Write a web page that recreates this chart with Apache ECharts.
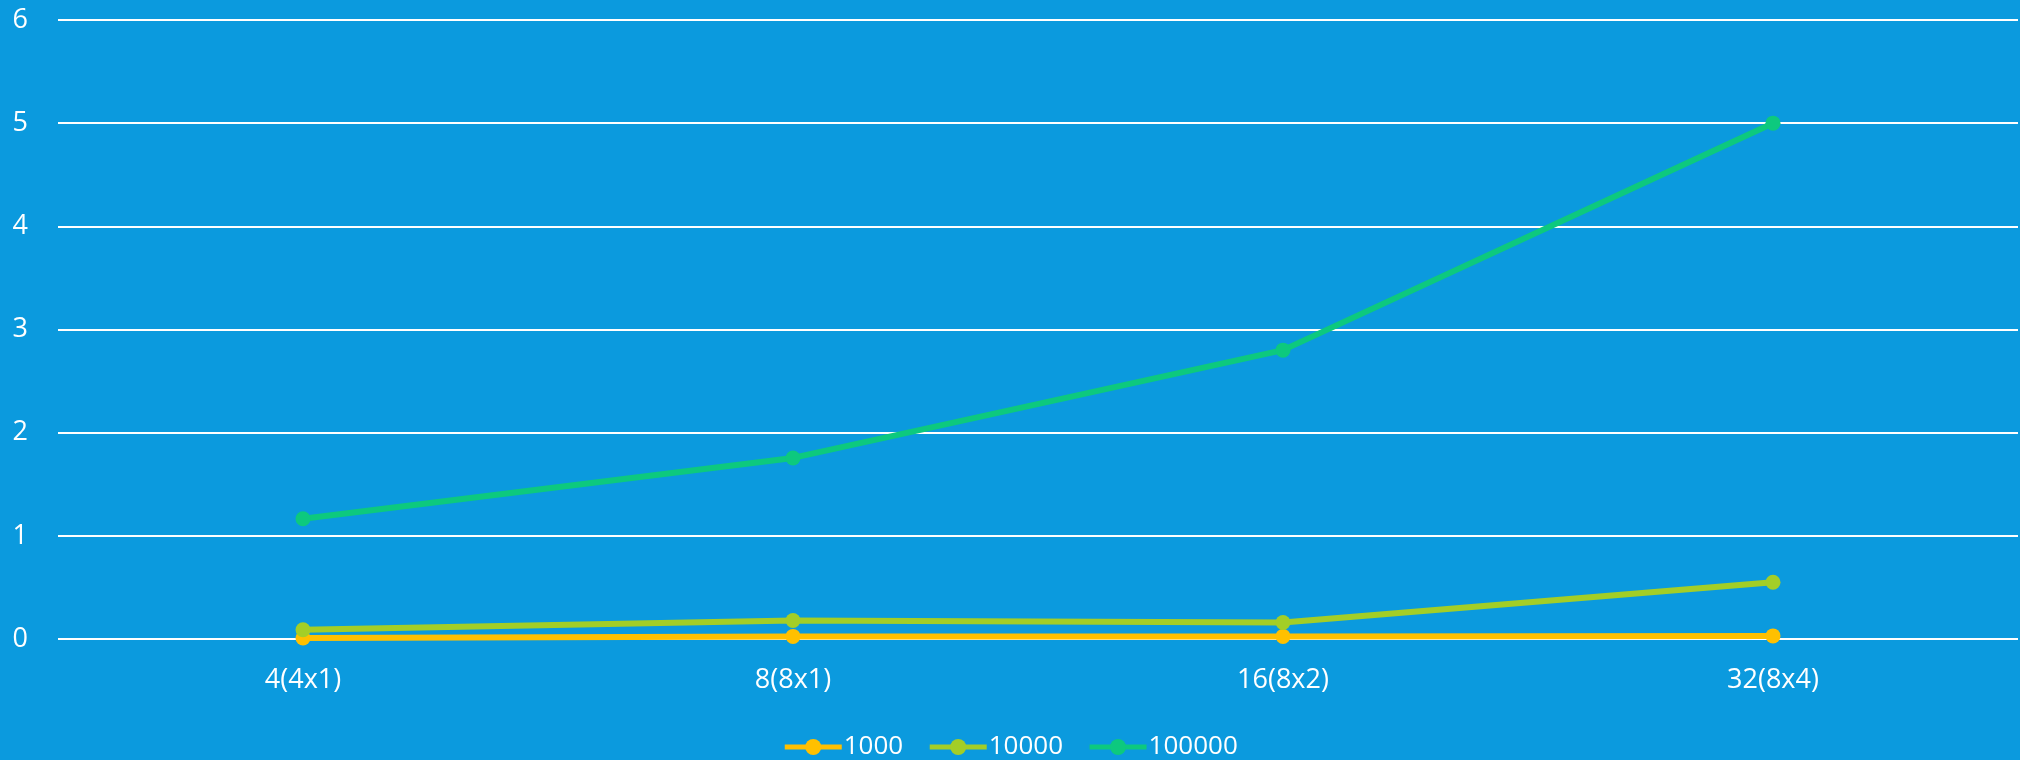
<!DOCTYPE html>
<html>
<head>
<meta charset="utf-8">
<script src="https://cdn.jsdelivr.net/npm/echarts@6/dist/echarts.min.js"></script>
<style>
html,body{margin:0;padding:0;background:#0B9ADE;}
#c{width:2020px;height:760px;}
</style>
</head>
<body>
<div id="c"></div>
<script>
const categories = ['4(4x1)', '8(8x1)', '16(8x2)', '32(8x4)'];
const seriesNames = ['1000', '10000', '100000'];
const s1000 = [0.01, 0.025, 0.025, 0.03];
const s10000 = [0.09, 0.18, 0.16, 0.55];
const s100000 = [1.165, 1.755, 2.80, 5.0];
const colors = ['#FFC000', '#A3CE27', '#0DC97E'];

const font = '"Open Sans", sans-serif';
const chart = echarts.init(document.getElementById('c'));
const mk = (name, data, color) => ({
  name, type: 'line', data,
  symbol: 'circle', symbolSize: 15,
  itemStyle: { color },
  lineStyle: { color, width: 6 },
  z: 3
});
chart.setOption({
  backgroundColor: '#0B9ADE',
  animation: false,
  textStyle: { fontFamily: font },
  grid: { left: 58, right: 2, top: 20, bottom: 121, containLabel: false },
  legend: {
    top: 729, left: 'center',
    itemWidth: 57, itemHeight: 20, itemGap: 24,
    data: seriesNames,
    lineStyle: { width: 5 },
    textStyle: { color: '#fff', fontSize: 26, fontFamily: font, padding: [0, 0, 0, -3] }
  },
  xAxis: {
    type: 'category', data: categories, boundaryGap: true,
    axisLine: { show: false }, axisTick: { show: false },
    axisLabel: { color: '#fff', fontSize: 27, margin: 28, fontFamily: font }
  },
  yAxis: {
    type: 'value', min: 0, max: 6, interval: 1,
    axisLine: { show: false }, axisTick: { show: false },
    axisLabel: { color: '#fff', fontSize: 27, margin: 30, fontFamily: font },
    splitLine: { lineStyle: { color: '#fff', width: 2 } }
  },
  series: [
    mk(seriesNames[0], s1000, colors[0]),
    mk(seriesNames[1], s10000, colors[1]),
    mk(seriesNames[2], s100000, colors[2])
  ]
});
</script>
</body>
</html>
